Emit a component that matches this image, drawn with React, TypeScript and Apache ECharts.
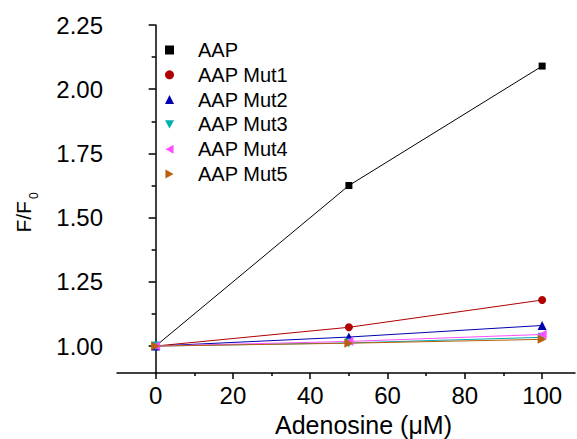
import React, { useEffect, useRef } from "react";
import * as echarts from "echarts";

const xValues = [0, 50, 100];
const seriesNames = ["AAP", "AAP Mut1", "AAP Mut2", "AAP Mut3", "AAP Mut4", "AAP Mut5"];
const aap = [1.0, 1.625, 2.09];
const mut1 = [1.0, 1.073, 1.179];
const mut2 = [1.0, 1.035, 1.08];
const mut3 = [1.0, 1.012, 1.034];
const mut4 = [1.0, 1.018, 1.045];
const mut5 = [1.0, 1.011, 1.026];
const seriesValues = [aap, mut1, mut2, mut3, mut4, mut5];
const colors = ["#000000", "#b00000", "#0000b0", "#00b0b0", "#ff50ff", "#b8600d"];
const symbols = [
  "rect",
  "circle",
  "triangle",
  "path://M0,0 L10,0 L5,9 Z",
  "path://M9,0 L9,10 L0,5 Z",
  "path://M0,0 L0,10 L9,5 Z",
];
const symbolSizes = [7, 8, 9, 9, 9, 9];
const xTickLabels = [0, 20, 40, 60, 80, 100];
const xMinorTicks = [10, 30, 50, 70, 90];
const yTickLabels = [1.0, 1.25, 1.5, 1.75, 2.0, 2.25];
const yMinorTicks = [1.125, 1.375, 1.625, 1.875, 2.125];

const FONT = "Liberation Sans, Arial, sans-serif";

export default function App() {
  const ref = useRef<HTMLDivElement>(null);
  useEffect(() => {
    document.body.style.margin = "0";
    if (!ref.current) return;
    const chart = echarts.init(ref.current, null, { renderer: "svg" });
    const xMin = -10;
    const xMax = 108.5;
    const yMin = 0.895;
    const yMax = 2.25;
    const axisLine = { show: true, lineStyle: { color: "#000", width: 1.5 } };
    chart.setOption({
      animation: false,
      backgroundColor: "#fff",
      textStyle: { fontFamily: FONT },
      grid: { left: 117, top: 25, right: 2, bottom: 66, containLabel: false, outerBoundsMode: "none" },
      legend: {
        orient: "vertical",
        left: 160,
        top: 35,
        itemWidth: 9,
        itemHeight: 9,
        itemGap: 4.8,
        textStyle: { fontFamily: FONT, fontSize: 20, color: "#000", lineHeight: 20, padding: [0, 0, 0, 19] },
        data: seriesNames.map((n, i) => ({ name: n, icon: symbols[i] })),
      },
      xAxis: [
        {
          type: "value",
          min: xMin,
          max: xMax,
          position: "bottom",
          axisLine,
          splitLine: { show: false },
          axisTick: { show: true, customValues: xTickLabels, length: 6, lineStyle: { color: "#000", width: 1.5 } },
          axisLabel: {
            customValues: xTickLabels,
            fontSize: 24,
            color: "#000",
            fontFamily: FONT,
            margin: 10,
          },
          name: "Adenosine (μM)",
          nameLocation: "middle",
          nameGap: 39,
          nameTextStyle: { fontSize: 25, lineHeight: 25, color: "#000", fontFamily: FONT, padding: [0, 0, 0, 35] },
        },
        {
          type: "value",
          min: xMin,
          max: xMax,
          position: "bottom",
          axisLine: { show: false },
          splitLine: { show: false },
          axisTick: { show: true, customValues: xMinorTicks, length: 3, lineStyle: { color: "#000", width: 1.5 } },
          axisLabel: { show: false },
        },
      ],
      yAxis: [
        {
          type: "value",
          min: yMin,
          max: yMax,
          position: "left",
          axisLine,
          splitLine: { show: false },
          axisTick: { show: true, customValues: yTickLabels, length: 7, lineStyle: { color: "#000", width: 1.5 } },
          axisLabel: {
            customValues: yTickLabels,
            fontSize: 24,
            color: "#000",
            fontFamily: FONT,
            margin: 14,
            formatter: (v: number) => v.toFixed(2),
          },
          name: "{a|F/F}{b|0}",
          nameLocation: "middle",
          nameGap: 77,
          nameRotate: 90,
          nameTextStyle: {
            padding: [0, 27, 0, 0],
            rich: {
              a: { fontSize: 21, color: "#000", fontFamily: FONT },
              b: { fontSize: 12, color: "#000", fontFamily: FONT, padding: [22, 0, 0, 2] },
            },
          },
        },
        {
          type: "value",
          min: yMin,
          max: yMax,
          position: "left",
          axisLine: { show: false },
          splitLine: { show: false },
          axisTick: { show: true, customValues: yMinorTicks, length: 4, lineStyle: { color: "#000", width: 1.5 } },
          axisLabel: { show: false },
        },
      ],
      series: seriesNames.map((n, i) => ({
        name: n,
        type: "line",
        xAxisIndex: 0,
        yAxisIndex: 0,
        data: xValues.map((x, j) => [x, seriesValues[i][j]]),
        symbol: symbols[i],
        symbolSize: symbolSizes[i],
        showAllSymbol: true,
        lineStyle: { color: colors[i], width: 1 },
        itemStyle: { color: colors[i] },
        emphasis: { disabled: true },
      })),
    });
    return () => chart.dispose();
  }, []);
  return <div ref={ref} style={{ width: 577, height: 439 }} />;
}
